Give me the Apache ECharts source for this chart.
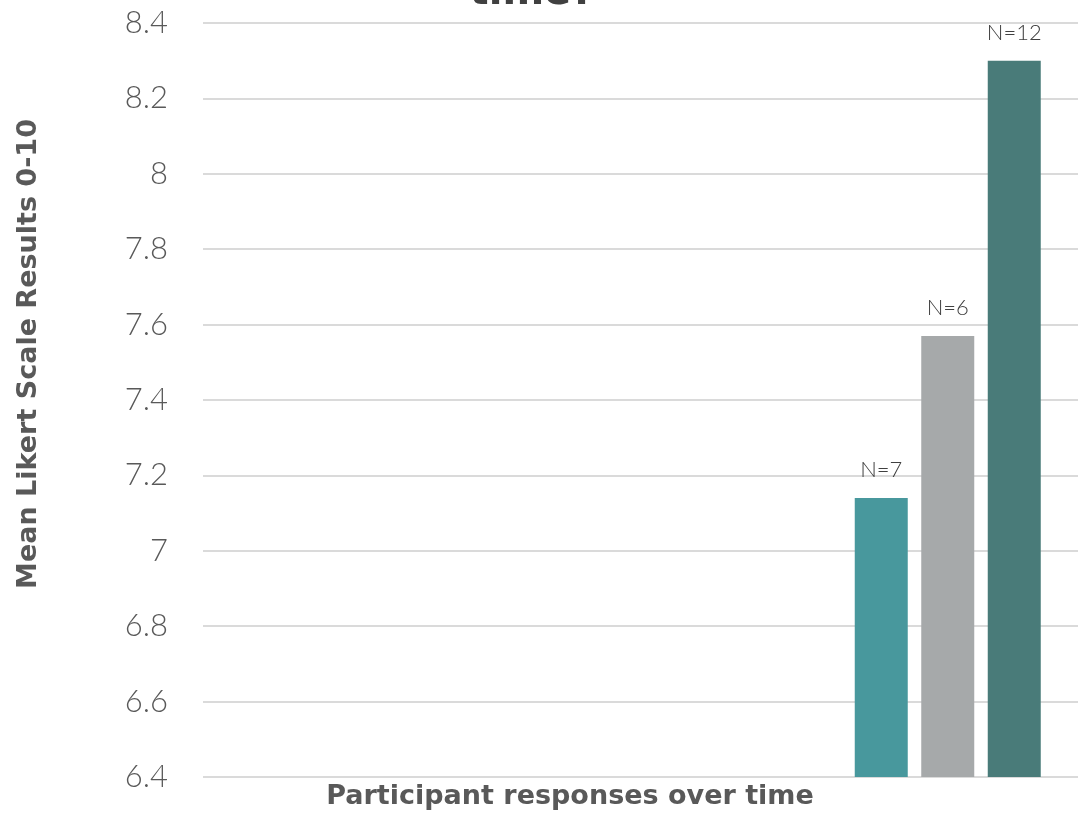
<!DOCTYPE html>
<html>
<head>
<meta charset="utf-8">
<script src="https://cdn.jsdelivr.net/npm/echarts@6/dist/echarts.min.js"></script>
<style>
  html, body { margin: 0; padding: 0; background: #ffffff; }
  #chart { width: 1084px; height: 814px; }
</style>
</head>
<body>
<div id="chart"></div>
<script>
// Survey waves and their mean Likert scores (0-10 scale)
const waves = ['Time 1', 'Time 2', 'Time 3'];
const meanScores = [7.14, 7.57, 8.30];
const sampleSizes = [7, 6, 12];
const barColors = ['#48989d', '#a6a9aa', '#497b79'];

// Value axis range and step
const yMin = 6.4;
const yMax = 8.4;
const yStep = 0.2;

const titleText = 'time?';
const xName = 'Participant responses over time';
const yName = 'Mean Likert Scale Results 0-10';

const LIGHT = 'Lato, "Open Sans", sans-serif';
const BOLD = '"DejaVu Sans", Lato, sans-serif';
const chart = echarts.init(document.getElementById('chart'), null, { renderer: 'canvas' });

chart.setOption({
  backgroundColor: '#ffffff',
  animation: false,
  grid: [
    { left: 203, right: 6, top: 23, bottom: 37 },
    { left: 848, width: 199.5, top: 23, bottom: 37 }
  ],
  xAxis: [
    {
      type: 'category', gridIndex: 0, data: [''],
      axisLine: { show: false }, axisTick: { show: false }, axisLabel: { show: false }
    },
    {
      type: 'category', gridIndex: 1, data: waves,
      axisLine: { show: false }, axisTick: { show: false }, axisLabel: { show: false }
    }
  ],
  yAxis: [
    {
      type: 'value', gridIndex: 0, min: yMin, max: yMax, interval: yStep,
      axisLine: { show: false }, axisTick: { show: false },
      axisLabel: { color: '#595959', fontFamily: LIGHT, fontWeight: 300, fontSize: 31, margin: 35 },
      splitLine: { lineStyle: { color: '#dadada', width: 2 } }
    },
    {
      type: 'value', gridIndex: 1, min: yMin, max: yMax, interval: yStep,
      show: false, splitLine: { show: false }
    }
  ],
  series: [
    {
      type: 'bar',
      xAxisIndex: 1, yAxisIndex: 1,
      barWidth: 53,
      data: meanScores.map((v, i) => ({ value: v, itemStyle: { color: barColors[i] } })),
      label: {
        show: true, position: 'top', distance: 17,
        color: '#404040', fontFamily: LIGHT, fontWeight: 300, fontSize: 22,
        formatter: p => 'N=' + sampleSizes[p.dataIndex]
      }
    }
  ],
  graphic: [
    {
      type: 'text', x: 532, y: 14,
      style: { text: titleText, fill: '#404040', font: 'bold 40px ' + BOLD, align: 'center', verticalAlign: 'bottom' }
    },
    {
      type: 'text', x: 570, y: 797,
      style: { text: xName, fill: '#595959', font: 'bold 27px ' + BOLD, align: 'center', verticalAlign: 'middle' }
    },
    {
      type: 'text', x: 29, y: 354, rotation: Math.PI / 2,
      style: { text: yName, fill: '#595959', font: 'bold 27px ' + BOLD, align: 'center', verticalAlign: 'middle' }
    }
  ]
});
</script>
</body>
</html>
